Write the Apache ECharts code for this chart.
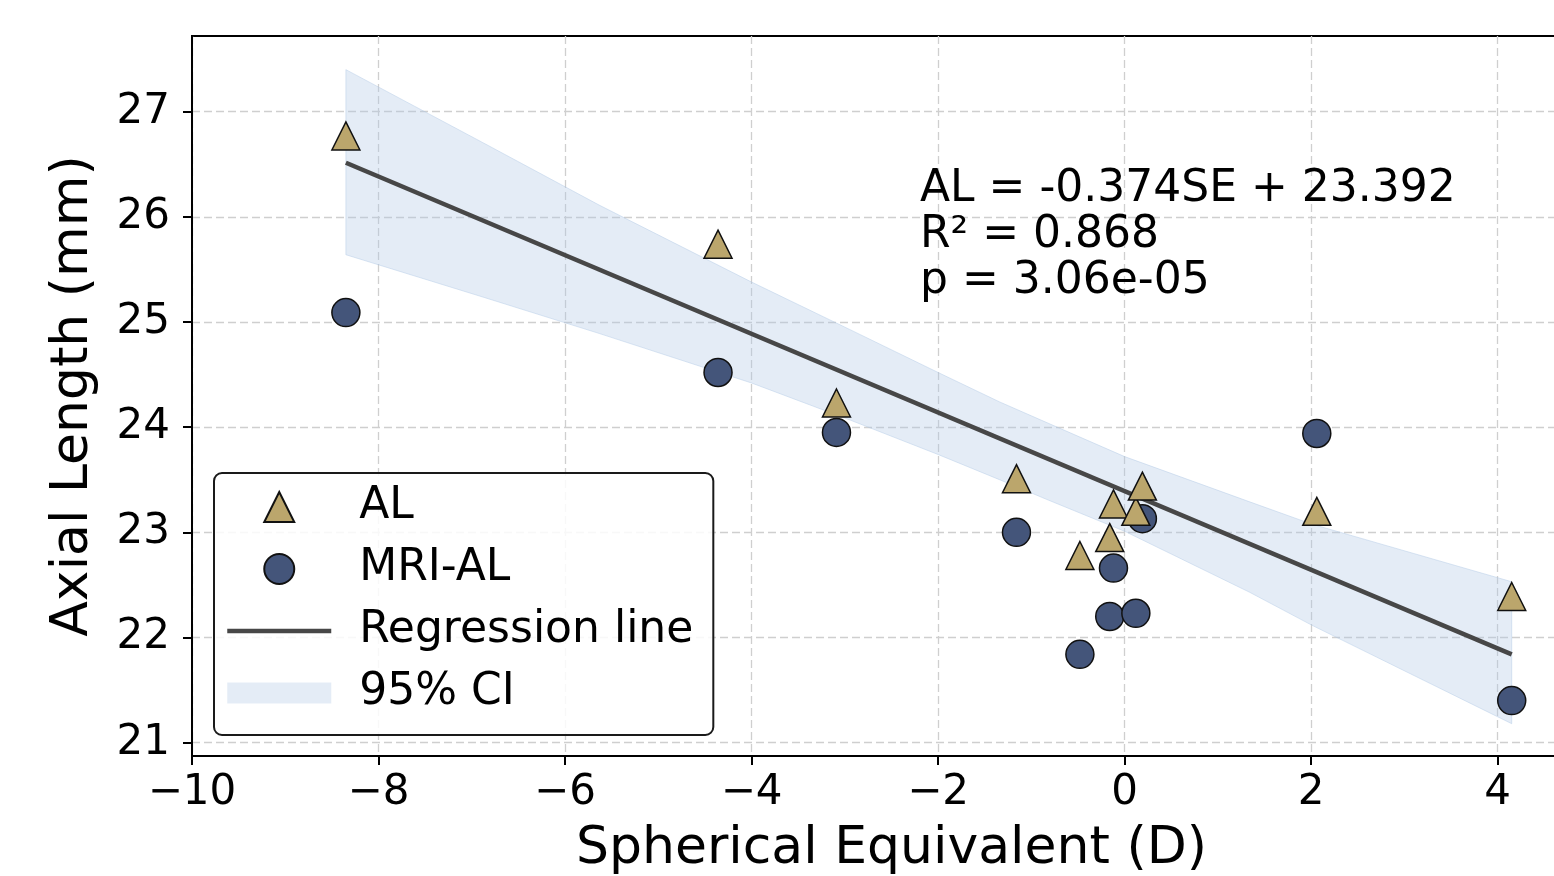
<!DOCTYPE html>
<html>
<head>
<meta charset="utf-8">
<script src="https://cdn.jsdelivr.net/npm/echarts@6/dist/echarts.min.js"></script>
<style>
  html, body { margin: 0; padding: 0; background: #fff; }
  #chart { width: 1554px; height: 876px; }
</style>
</head>
<body>
<div id="chart"></div>
<script>
// Spherical equivalent of each eye (D)
const seValues = [-8.35, -4.36, -3.09, -1.16, -0.48, -0.12, -0.16, 0.12, 0.19, 2.06, 4.15];
// Axial length from optical biometry (mm)
const alValues = [26.77, 25.74, 24.23, 23.51, 22.78, 23.27, 22.95, 23.20, 23.44, 23.20, 22.39];
// Axial length measured on MRI (mm)
const mriValues = [25.09, 24.52, 23.95, 23.00, 21.84, 22.66, 22.20, 22.23, 23.13, 23.94, 21.40];

// 95% confidence band of the fit
const ciX = [-8.35, -6.89, -5.63, -4.0, -2.95, -2.0, -1.34, -0.8, 0.0, 1.34, 2.0, 4.15];
const ciLower = [25.64, 25.24, 24.89, 24.42, 24.07, 23.74, 23.50, 23.30, 23.01, 22.43, 22.12, 21.18];
const ciUpper = [27.40, 26.71, 26.11, 25.38, 24.93, 24.52, 24.24, 24.03, 23.72, 23.29, 23.08, 22.53];

// Fit reported on the chart
const fitSlope = -0.374;
const fitIntercept = 23.392;
const statLines = ['AL = -0.374SE + 23.392', 'R\u00b2 = 0.868', 'p = 3.06e-05'];

const xTicks = [-10, -8, -6, -4, -2, 0, 2, 4];
const yTicks = [21, 22, 23, 24, 25, 26, 27];

const font = '"DejaVu Sans", sans-serif';
const fmt = (v) => (v < 0 ? '\u2212' + Math.abs(v) : String(v));

const seMin = Math.min(...seValues);
const seMax = Math.max(...seValues);
const fitLine = [seMin, seMax].map((x) => [x, fitIntercept + fitSlope * x]);

const lineColor = '#474747';
const bandFill = 'rgba(176,200,228,0.34)';
const gridLine = { color: '#cfcfcf', width: 1.3, type: [8, 4] };
const spine = { show: true, onZero: false, lineStyle: { color: '#000', width: 2 } };

const chart = echarts.init(document.getElementById('chart'));

chart.setOption({
  animation: false,
  textStyle: { fontFamily: font },
  grid: {
    left: 192, top: 36, width: 1399, height: 720,
    show: true, borderColor: '#000', borderWidth: 2,
    outerBoundsMode: 'none'
  },
  xAxis: {
    type: 'value', min: -10, max: 5,
    name: 'Spherical Equivalent (D)', nameLocation: 'middle', nameGap: 67,
    nameTextStyle: { fontSize: 52, color: '#000' },
    axisLine: spine,
    axisTick: { length: 9, lineStyle: { color: '#000', width: 2 }, customValues: xTicks },
    axisLabel: { customValues: xTicks, formatter: fmt, fontSize: 42, color: '#000', margin: 16 },
    splitLine: { show: true, lineStyle: gridLine }
  },
  yAxis: {
    type: 'value', min: 20.873, max: 27.72,
    name: 'Axial Length (mm)', nameLocation: 'middle', nameGap: 93, nameRotate: 90,
    nameTextStyle: { fontSize: 52, color: '#000' },
    axisLine: spine,
    axisTick: { length: 9, lineStyle: { color: '#000', width: 2 }, customValues: yTicks },
    axisLabel: { customValues: yTicks, formatter: fmt, fontSize: 42, color: '#000', margin: 22 },
    splitLine: { show: true, lineStyle: gridLine }
  },
  legend: {
    orient: 'vertical', left: 214, top: 473,
    data: [
      { name: 'AL', icon: 'path://M15,0L30,30L0,30Z' },
      { name: 'MRI-AL', icon: 'circle' },
      { name: 'Regression line', itemStyle: { opacity: 0 }, lineStyle: { color: lineColor, width: 4.5 } },
      { name: '95% CI', icon: 'path://M0,0H110V22H0Z' }
    ],
    itemWidth: 104, itemHeight: 30, itemGap: 18,
    symbolKeepAspect: true,
    padding: [12, 20, 20, 11],
    backgroundColor: 'rgba(255,255,255,0.85)',
    borderColor: '#1a1a1a', borderWidth: 2, borderRadius: 8,
    textStyle: { fontSize: 44, color: '#000', lineHeight: 44, padding: [0, 0, 0, 23] },
    selectedMode: false
  },
  graphic: [{
    type: 'text', left: 920, top: 167, z: 10,
    style: { text: statLines.join('\n'), font: '44px "DejaVu Sans"', fill: '#000', lineHeight: 46 }
  }],
  series: [
    {
      name: '95% CI', type: 'custom', silent: true, z: 1,
      data: ciX.map((x, i) => [x, ciLower[i], ciUpper[i]]),
      encode: { x: 0, y: [1, 2] },
      itemStyle: { color: bandFill },
      renderItem: (params, api) => {
        if (params.dataIndex !== 0) return null;
        const upper = ciX.map((x, i) => api.coord([x, ciUpper[i]]));
        const lower = ciX.map((x, i) => api.coord([x, ciLower[i]])).reverse();
        return {
          type: 'polygon',
          shape: { points: upper.concat(lower) },
          style: { fill: bandFill, stroke: 'rgba(176,200,228,0.45)', lineWidth: 1 }
        };
      }
    },
    {
      name: 'Regression line', type: 'line', z: 2,
      data: fitLine, symbol: 'none',
      itemStyle: { color: lineColor },
      lineStyle: { color: lineColor, width: 4.5 }
    },
    {
      name: 'MRI-AL', type: 'scatter', z: 3,
      data: seValues.map((x, i) => [x, mriValues[i]]),
      symbol: 'circle', symbolSize: 28,
      itemStyle: { color: '#44557a', borderColor: '#111', borderWidth: 1.5, opacity: 1 }
    },
    {
      name: 'AL', type: 'scatter', z: 4,
      data: seValues.map((x, i) => [x, alValues[i]]),
      symbol: 'triangle', symbolSize: 28,
      itemStyle: { color: '#bba66c', borderColor: '#111', borderWidth: 1.5, opacity: 1 }
    }
  ]
});

window.addEventListener('resize', () => chart.resize());
</script>
</body>
</html>
